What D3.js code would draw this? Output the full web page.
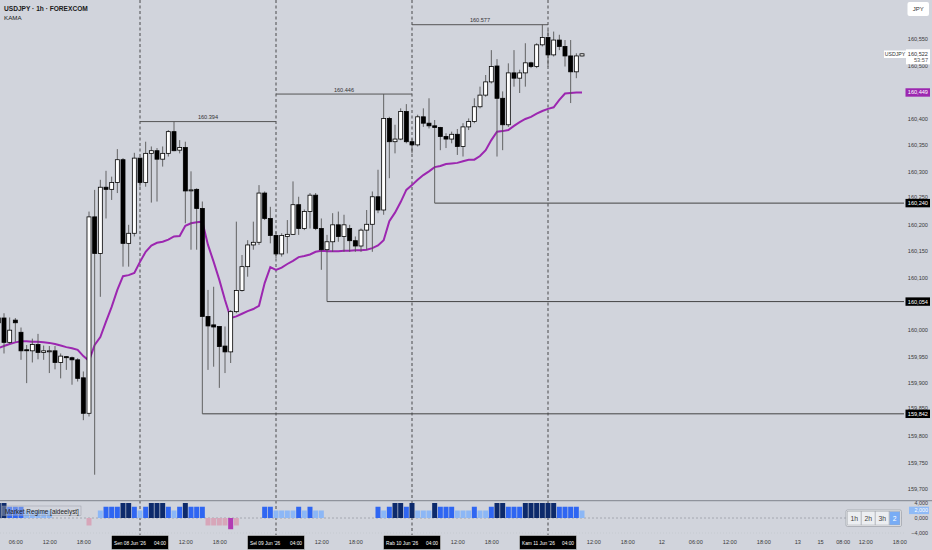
<!DOCTYPE html>
<html><head><meta charset="utf-8">
<script src="https://cdn.jsdelivr.net/npm/d3@7/dist/d3.min.js"></script>
<style>
body{margin:0;background:#d1d4dc;}
svg{display:block;font-family:"Liberation Sans",Arial,sans-serif;}
</style>
</head><body>
<svg id="c" width="932" height="550"></svg>
<script>
// hours are counted from Sen 08 Jun '26 04:00 ; first bar is at hour -25
const firstHour = -25;
const opens = [160.014,160.023,159.977,160.019,159.996,159.963,159.961,159.973,159.958,159.961,159.961,159.939,159.950,159.948,159.944,159.910,159.843,160.214,160.145,160.270,160.266,160.279,160.322,160.164,160.183,
160.325,160.279,160.334,160.339,160.323,160.334,160.375,160.340,160.345,160.264,160.266,160.230,160.026,160.010,160.007,159.970,159.959,160.035,160.075,160.120,160.161,160.166,160.259,160.211,
160.179,160.144,160.177,160.181,160.237,160.192,160.224,160.255,160.192,160.152,160.167,160.199,160.177,160.192,160.169,160.159,160.189,160.200,160.252,160.227,160.400,160.356,160.361,160.413,
160.356,160.350,160.403,160.391,160.386,160.383,160.366,160.361,160.370,160.347,160.384,160.394,160.422,160.444,160.469,160.499,160.438,160.388,160.486,160.476,160.486,160.505,160.498,160.539,
160.553,160.520,160.548,160.536,160.518,160.488,160.518];
const highs = [160.030,160.032,160.024,160.023,160.005,159.972,159.984,159.993,159.971,159.970,159.970,159.956,159.951,159.950,159.947,159.922,160.224,160.265,160.284,160.301,160.290,160.342,160.325,160.199,160.335,
160.326,160.356,160.347,160.344,160.347,160.378,160.394,160.359,160.356,160.300,160.268,160.243,160.076,160.082,160.007,160.007,160.038,160.205,160.142,160.170,160.205,160.274,160.262,160.233,
160.186,160.183,160.208,160.281,160.252,160.228,160.259,160.259,160.211,160.180,160.221,160.224,160.218,160.199,160.177,160.192,160.227,160.262,160.303,160.446,160.403,160.388,160.419,160.427,
160.362,160.407,160.419,160.438,160.397,160.384,160.372,160.375,160.380,160.391,160.400,160.438,160.460,160.482,160.529,160.512,160.451,160.504,160.529,160.492,160.542,160.507,160.542,160.577,
160.567,160.564,160.558,160.548,160.548,160.523,160.523];
const lows = [160.005,159.956,159.974,159.978,159.944,159.900,159.939,159.945,159.944,159.919,159.926,159.909,159.925,159.897,159.903,159.830,159.837,159.727,160.063,160.211,160.246,160.259,160.120,160.120,160.177,
160.271,160.271,160.241,160.243,160.309,160.328,160.338,160.334,160.202,160.152,160.152,159.842,159.925,159.931,159.891,159.919,159.938,160.032,160.073,160.101,160.152,160.161,160.208,160.164,
160.136,160.139,160.145,160.180,160.180,160.189,160.192,160.189,160.114,160.054,160.148,160.167,160.148,160.148,160.148,160.148,160.152,160.148,160.221,160.218,160.287,160.334,160.359,160.353,
160.334,160.347,160.384,160.381,160.240,160.340,160.344,160.353,160.331,160.328,160.378,160.391,160.419,160.441,160.466,160.328,160.340,160.384,160.460,160.448,160.460,160.495,160.495,160.536,
160.498,160.517,160.529,160.498,160.429,160.476,160.517];
const closes = [160.023,159.977,160.000,160.014,159.961,159.962,159.973,159.958,159.961,159.961,159.939,159.951,159.948,159.944,159.909,159.843,160.214,160.145,160.270,160.266,160.279,160.322,160.164,160.183,160.325,
160.279,160.334,160.339,160.323,160.334,160.375,160.339,160.345,160.263,160.265,160.230,160.026,160.008,160.006,159.969,159.959,160.035,160.075,160.120,160.161,160.166,160.259,160.211,160.179,
160.144,160.179,160.181,160.237,160.192,160.224,160.255,160.192,160.152,160.167,160.199,160.177,160.199,160.169,160.159,160.189,160.200,160.252,160.227,160.400,160.356,160.361,160.413,160.356,
160.350,160.403,160.391,160.386,160.383,160.366,160.361,160.370,160.347,160.384,160.394,160.422,160.444,160.469,160.498,160.438,160.388,160.486,160.476,160.486,160.505,160.498,160.539,160.553,
160.520,160.548,160.536,160.518,160.488,160.518,160.522];
const kama = [159.966,159.970,159.974,159.977,159.979,159.979,159.978,159.978,159.977,159.976,159.974,159.971,159.968,159.966,159.963,159.951,159.942,159.972,159.987,160.016,160.044,160.076,160.102,160.104,160.108,
160.129,160.148,160.160,160.165,160.167,160.171,160.177,160.178,160.197,160.202,160.204,160.205,160.161,160.129,160.095,160.057,160.023,160.026,160.031,160.036,160.040,160.046,160.089,160.119,
160.114,160.118,160.125,160.131,160.138,160.140,160.143,160.148,160.150,160.149,160.149,160.149,160.150,160.150,160.151,160.151,160.152,160.155,160.160,160.170,160.206,160.222,160.242,160.265,
160.274,160.284,160.293,160.300,160.308,160.310,160.314,160.315,160.316,160.319,160.322,160.322,160.329,160.340,160.359,160.375,160.376,160.378,160.386,160.393,160.399,160.403,160.409,160.414,
160.418,160.421,160.435,160.447,160.448,160.449,160.449];
const regime = [4,4,3,3,3,2,2,2,2,2,0,0,0,0,0,0,-2,0,2,3,3,3,4,4,3,
2,3,4,4,4,3,2,3,4,3,3,3,-2,-2,-2,-2,-3,-2,0,0,0,0,3,3,
2,2,2,2,3,2,3,2,2,0,0,0,0,0,0,0,0,0,3,2,3,4,4,3,
4,2,2,2,4,3,3,3,2,2,2,3,2,2,3,4,4,3,3,3,4,4,4,4,
4,4,3,3,3,3,2];

// 160,050 is hidden behind the 160,054 tag in the reference
const priceTicks = [160.55,160.50,160.45,160.40,160.35,160.30,160.25,160.20,160.15,160.10,160.00,159.95,159.90,159.85,159.80,159.75,159.70];
const timeTickHours = [-22,-16,-10,8,14,32,38,56,62,80,86,92,98,104,110,116,120,124,128,134];
const timeTickLabels = ["06:00","12:00","18:00","12:00","18:00","12:00","18:00","12:00","18:00","12:00","18:00","12","06:00","12:00","18:00","13","15","08:00","12:00","18:00"];
const dayHours = [0,24,48,72];
const dayLabels = ["Sen 08 Jun '26","Sel 09 Jun '26","Rab 10 Jun '26","Kam 11 Jun '26"];
const dayTime = "04:00";
const sessStart = [0,24,48], sessEnd = [24,48,72], sessHigh = [160.394,160.446,160.577];
const lowHours = [11,33,52], lowValues = [159.842,160.054,160.240];
const regimeTicks = [4,2,0,-4];
const lastPrice = 160.522, lastKama = 160.449;

const svg = d3.select("#c");
const x = d3.scaleLinear().domain([0,72]).range([140,548]);
const y = d3.scaleLinear().domain([159.70,160.55]).range([489,39]);
const yi = d3.scaleLinear().domain([-4,4]).range([533,503]);
const fmt = d => d3.format(".3f")(d).replace(".", ",");
const plotR = 904;

svg.append("rect").attr("width",932).attr("height",550).attr("fill","#d1d4dc");
const defs = svg.append("defs");
defs.append("clipPath").attr("id","mainClip").append("rect").attr("x",0).attr("y",0).attr("width",plotR).attr("height",499);
defs.append("clipPath").attr("id","indClip").append("rect").attr("x",0).attr("y",501).attr("width",plotR).attr("height",34);

// vertical day dashed lines
svg.append("g").selectAll("line").data(dayHours).join("line")
  .attr("x1",d=>x(d)).attr("x2",d=>x(d)).attr("y1",0).attr("y2",535)
  .attr("stroke","#3a3a3a").attr("stroke-width",0.9).attr("stroke-dasharray","3,2.5");

const main = svg.append("g").attr("clip-path","url(#mainClip)");

// session high lines
sessHigh.forEach((v,i)=>{
  main.append("line").attr("x1",x(sessStart[i])).attr("x2",x(sessEnd[i]))
    .attr("y1",y(v)).attr("y2",y(v)).attr("stroke","#555").attr("stroke-width",1);
  main.append("text").attr("x",(x(sessStart[i])+x(sessEnd[i]))/2).attr("y",y(v)-2.5)
    .attr("text-anchor","middle").attr("font-size",5.6).attr("fill","#333").text(d3.format(".3f")(v));
});
// swing-low lines
lowValues.forEach((v,i)=>{
  main.append("line").attr("x1",x(lowHours[i])).attr("x2",plotR)
    .attr("y1",y(v)).attr("y2",y(v)).attr("stroke","#444").attr("stroke-width",1);
});

// KAMA
main.append("path").datum(kama)
  .attr("d", d3.line().x((d,i)=>x(firstHour+i)).y(d=>y(d)))
  .attr("fill","none").attr("stroke","#9c27b0").attr("stroke-width",2);

// candles
const bars = opens.map((o,i)=>({h:firstHour+i,o,hi:highs[i],lo:lows[i],c:closes[i]}));
const cg = main.append("g");
cg.selectAll("line").data(bars).join("line")
  .attr("x1",d=>x(d.h)).attr("x2",d=>x(d.h)).attr("y1",d=>y(d.hi)).attr("y2",d=>y(d.lo))
  .attr("stroke","#555").attr("stroke-width",0.9);
const bw = 4.0;
cg.selectAll("rect").data(bars).join("rect")
  .attr("x",d=>x(d.h)-bw/2).attr("width",bw)
  .attr("y",d=>y(Math.max(d.o,d.c)))
  .attr("height",d=>Math.max(1,Math.abs(y(d.o)-y(d.c))))
  .attr("fill",d=>d.c>=d.o?"#ffffff":"#000000")
  .attr("stroke","#000").attr("stroke-width",0.8);

// price axis
const tagH = 8.4;
const pAxis = svg.append("g").attr("transform",`translate(${plotR},0)`)
  .call(d3.axisRight(y).tickValues(priceTicks).tickSize(0).tickFormat(fmt));
pAxis.select(".domain").remove();
pAxis.selectAll("text").attr("x",24).attr("text-anchor","end").attr("font-size",5.6).attr("fill","#3a3a3a").attr("font-family","Liberation Sans, Arial")
  .attr("dy", d => {
    // squeeze a tick label just above a tag that would cover it
    const near = lowValues.find(v => Math.abs(y(v)-y(d)) < tagH && y(v) > y(d));
    if (near === undefined) return "0.32em";
    const tagTop = y(near) - tagH/2;
    return (tagTop - 0.4 - y(d)) + "px";
  });

// tags on price axis
function tag(v, fill, color){
  const g = svg.append("g");
  g.append("rect").attr("x",905.5).attr("y",y(v)-tagH/2).attr("width",24.5).attr("height",tagH).attr("fill",fill);
  g.append("text").attr("x",928).attr("y",y(v)+2).attr("text-anchor","end")
    .attr("font-size",5.6).attr("fill",color).text(fmt(v));
}
tag(lastKama,"#9c27b0","#fff");
lowValues.forEach(v=>tag(v,"#000","#fff"));

// current price label
svg.append("rect").attr("x",884).attr("y",50.5).attr("width",22).attr("height",7.5).attr("fill","#fff");
svg.append("text").attr("x",895).attr("y",56.2).attr("text-anchor","middle").attr("font-size",5.2).attr("fill","#333").text("USDJPY");
svg.append("rect").attr("x",906).attr("y",y(lastPrice)-4.5).attr("width",24).attr("height",15).attr("fill","#fff");
svg.append("text").attr("x",928).attr("y",y(lastPrice)+2).attr("text-anchor","end").attr("font-size",5.6).attr("fill","#333").text(fmt(lastPrice));
svg.append("text").attr("x",928).attr("y",y(lastPrice)+8.5).attr("text-anchor","end").attr("font-size",5.6).attr("fill","#555").text("53:57");

// JPY button
svg.append("rect").attr("x",907.5).attr("y",2).attr("width",21.5).attr("height",14).attr("rx",2).attr("fill","#fff");
svg.append("text").attr("x",918.3).attr("y",11.3).attr("text-anchor","middle").attr("font-size",6).attr("fill","#333").text("JPY");

// title
svg.append("text").attr("x",4).attr("y",10.8).attr("font-size",6.6).attr("font-weight","bold").attr("fill","#1a1a1a").text("USDJPY · 1h · FOREXCOM");
svg.append("text").attr("x",4).attr("y",20).attr("font-size",6.2).attr("fill","#1a1a1a").text("KAMA");

// indicator pane
svg.append("line").attr("x1",0).attr("x2",932).attr("y1",500.6).attr("y2",500.6).attr("stroke","#8f939c").attr("stroke-width",1.2);
const ind = svg.append("g").attr("clip-path","url(#indClip)");
ind.append("line").attr("x1",0).attr("x2",plotR).attr("y1",yi(0)).attr("y2",yi(0))
  .attr("stroke","#9a9da5").attr("stroke-width",0.8).attr("stroke-dasharray","2,2");
ind.append("line").attr("x1",0).attr("x2",plotR).attr("y1",yi(-4)).attr("y2",yi(-4))
  .attr("stroke","#c0c3ca").attr("stroke-width",0.6).attr("stroke-dasharray","1,2");
const rColor = v => v>=4?"#0d2a6b":v>=3?"#2f66f2":v>=2?"#8cb7f6":v<=-3?"#b23bb3":"#d7a6b9";
ind.selectAll("rect.r").data(regime.map((v,i)=>({h:firstHour+i,v})).filter(d=>d.v!==0)).join("rect")
  .attr("class","r").attr("x",d=>x(d.h)-2.5).attr("width",5)
  .attr("y",d=>Math.min(yi(d.v),yi(0))).attr("height",d=>Math.abs(yi(d.v)-yi(0)))
  .attr("fill",d=>rColor(d.v));
svg.append("rect").attr("x",2).attr("y",506).attr("width",79).attr("height",9.5)
  .attr("fill","rgba(209,212,220,0.35)").attr("stroke","#8f939c").attr("stroke-width",0.4);
svg.append("text").attr("x",5).attr("y",513.5).attr("font-size",6.4).attr("fill","#222").text("Market Regime [aideelyst]");

// indicator axis
const iAxis = svg.append("g").attr("transform",`translate(${plotR},0)`)
  .call(d3.axisRight(yi).tickValues(regimeTicks).tickSize(0).tickFormat(fmt));
iAxis.select(".domain").remove();
iAxis.selectAll("text").attr("x",24).attr("text-anchor","end").attr("font-size",5.4).attr("fill","#3a3a3a").attr("font-family","Liberation Sans, Arial");
const lastReg = regime[regime.length-1];
svg.append("rect").attr("x",909).attr("y",yi(lastReg)-3.8).attr("width",20).attr("height",7.4).attr("fill","#8fbaf6");
svg.append("text").attr("x",928).attr("y",yi(lastReg)+1.9).attr("text-anchor","end").attr("font-size",5.4).attr("fill","#fff").text(fmt(lastReg));

// interval buttons
const btn = svg.append("g");
btn.append("rect").attr("x",846).attr("y",510).attr("width",55.5).attr("height",16.5).attr("fill","#e9eaed").attr("stroke","#9a9da5").attr("stroke-width",0.7).attr("rx",1.5);
const bLabels = ["1h","2h","3h","2"], bX = [847.5,861.5,875.5,889.5], bWd = [13.5,13.5,13.5,10.5];
bLabels.forEach((t,i)=>{
  btn.append("rect").attr("x",bX[i]).attr("y",511.5).attr("width",bWd[i]).attr("height",13.5)
    .attr("fill",i===3?"#78acf5":"#eceef1").attr("stroke","#a6a9b0").attr("stroke-width",0.5);
  btn.append("text").attr("x",bX[i]+bWd[i]/2).attr("y",520.5).attr("text-anchor","middle")
    .attr("font-size",6.8).attr("fill",i===3?"#fff":"#444").text(t);
});

// time axis
const tAxis = svg.append("g").attr("transform","translate(0,536)")
  .call(d3.axisBottom(x).tickValues(timeTickHours).tickSize(0).tickPadding(0).tickFormat((d,i)=>timeTickLabels[i]));
tAxis.select(".domain").remove();
tAxis.selectAll("text").attr("dy",0).attr("y",8.3).attr("font-size",5.6).attr("fill","#3a3a3a").attr("font-family","Liberation Sans, Arial");
dayHours.forEach((h,i)=>{
  const cx = x(h);
  svg.append("rect").attr("x",cx-28.5).attr("y",535.5).attr("width",57).attr("height",14).attr("fill","#000").attr("stroke","#ddd").attr("stroke-width",0.5);
  svg.append("text").attr("x",cx-26).attr("y",544.5).attr("font-size",4.8).attr("fill","#fff").text(dayLabels[i]);
  svg.append("text").attr("x",cx+26).attr("y",544.5).attr("text-anchor","end").attr("font-size",4.8).attr("fill","#fff").text(dayTime);
});
</script>
</body></html>
